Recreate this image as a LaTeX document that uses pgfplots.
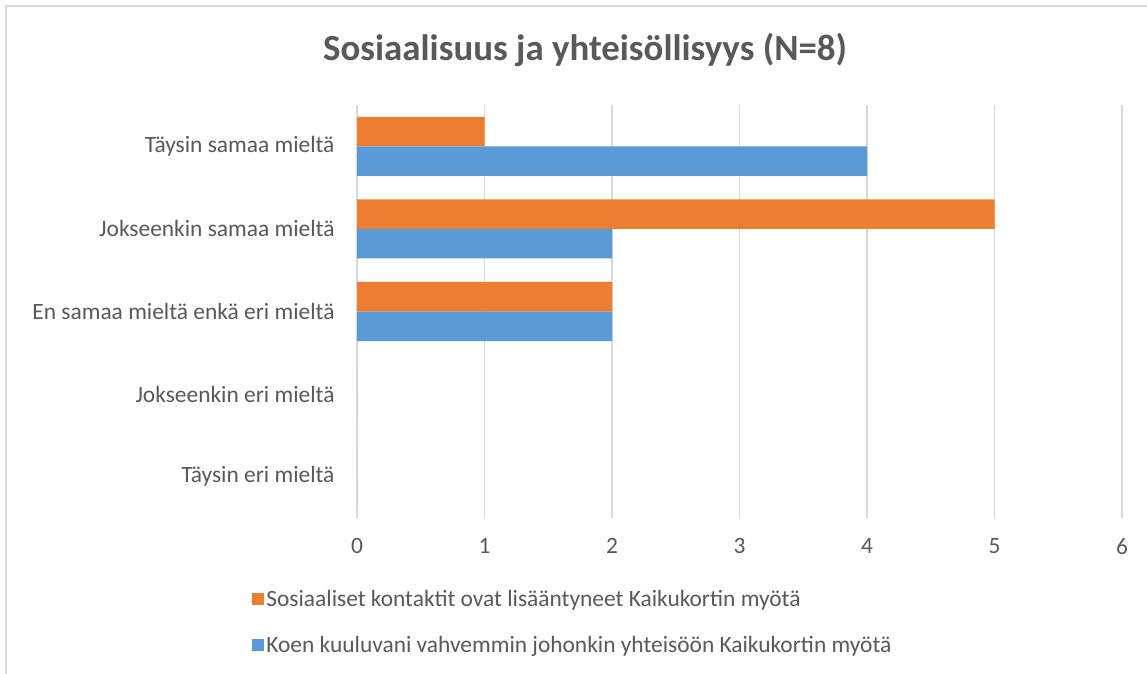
\documentclass[border=0pt]{standalone}
\usepackage{fontspec}
\setmainfont{Carlito}
\usepackage{pgfplots}
\pgfplotsset{compat=1.18}
\definecolor{orng}{HTML}{ED7D31}
\definecolor{blu}{HTML}{5B9BD5}
\definecolor{txt}{HTML}{595959}
\definecolor{grd}{HTML}{D9D9D9}
\begin{document}
\begin{tikzpicture}
\path[use as bounding box, fill=white] (0,0) rectangle (1147bp,674bp);
\draw[grd, line width=1.5bp] (6bp,0) -- (6bp,668bp) -- (1147bp,668bp);
\node[text=txt, font=\fontsize{37}{44}\selectfont\bfseries, anchor=base] at (585bp,613bp) {Sosiaalisuus ja yhteisöllisyys (N=8)};
\begin{axis}[
  at={(357bp,156bp)}, anchor=south west,
  width=765bp, height=413bp, scale only axis,
  xbar=0pt, bar width=29.5bp,
  xmin=0, xmax=6, ymin=-0.5, ymax=4.5,
  xtick={0,1,2,3,4,5,6}, ytick={0,1,2,3,4},
  yticklabels={Täysin eri mieltä, Jokseenkin eri mieltä, En samaa mieltä enkä eri mieltä, Jokseenkin samaa mieltä, Täysin samaa mieltä},
  xmajorgrids, major grid style={grd, line width=1.8bp},
  axis line style={draw=none},
  major tick length=0pt,
  tick label style={text=txt, font=\fontsize{23.5}{28}\selectfont},
  /pgf/number format/assume math mode=true,
  xticklabel style={yshift=-17bp},
  yticklabel style={xshift=-19bp},
  legend style={at={(axis description cs:-0.137,-0.17)}, anchor=north west, draw=none, fill=none,
    font=\fontsize{23.5}{28}\selectfont, text=txt, row sep=24bp, inner sep=0pt},
  legend cell align=left,
]
\addplot[fill=orng, draw=none, bar shift=14.75bp, legend image code/.code={\fill[orng] (0bp,-6bp) rectangle (12bp,6bp);}]
  coordinates {(0,0) (0,1) (2,2) (5,3) (1,4)};
\addlegendentry{Sosiaaliset kontaktit ovat lisääntyneet Kaikukortin myötä}
\addplot[fill=blu, draw=none, bar shift=-14.75bp, legend image code/.code={\fill[blu] (0bp,-6bp) rectangle (12bp,6bp);}]
  coordinates {(0,0) (0,1) (2,2) (2,3) (4,4)};
\addlegendentry{Koen kuuluvani vahvemmin johonkin yhteisöön Kaikukortin myötä}
\end{axis}
\end{tikzpicture}
\end{document}
